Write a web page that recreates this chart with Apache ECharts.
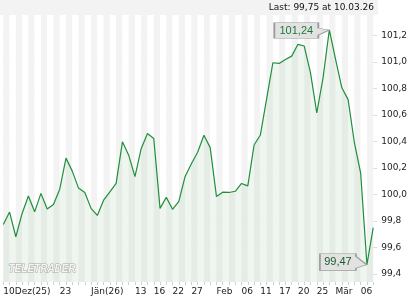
<!DOCTYPE html>
<html><head><meta charset="utf-8">
<script src="https://cdn.jsdelivr.net/npm/echarts@6/dist/echarts.min.js"></script>
<style>html,body{margin:0;padding:0;background:#fff}#c{width:420px;height:300px}</style>
</head><body><div id="c"></div>
<script>
var dates = [
 '2025-12-10','2025-12-11','2025-12-12','2025-12-15','2025-12-16','2025-12-17','2025-12-18','2025-12-19','2025-12-22','2025-12-23',
 '2025-12-24','2025-12-29','2025-12-30','2025-12-31',
 '2026-01-02','2026-01-05','2026-01-06','2026-01-07','2026-01-08','2026-01-09','2026-01-12','2026-01-13','2026-01-14','2026-01-15',
 '2026-01-16','2026-01-20','2026-01-21','2026-01-22','2026-01-23','2026-01-26','2026-01-27','2026-01-28','2026-01-29','2026-01-30',
 '2026-02-02','2026-02-03','2026-02-04','2026-02-05','2026-02-06','2026-02-09','2026-02-10','2026-02-11','2026-02-12','2026-02-13',
 '2026-02-17','2026-02-18','2026-02-19','2026-02-20','2026-02-23','2026-02-24','2026-02-25','2026-02-26','2026-02-27',
 '2026-03-02','2026-03-03','2026-03-04','2026-03-05','2026-03-06','2026-03-09','2026-03-10'
];
var prices = [
 99.774, 99.867, 99.681, 99.857, 99.988, 99.869, 100.008, 99.890, 99.925, 100.040,
 100.274, 100.176, 100.048, 100.015, 99.895, 99.842, 99.957, 100.020, 100.083, 100.397,
 100.296, 100.135, 100.347, 100.460, 100.422, 99.895, 99.978, 99.888, 99.948, 100.136,
 100.232, 100.318, 100.447, 100.353, 99.985, 100.017, 100.015, 100.024, 100.083, 100.065,
 100.373, 100.448, 100.720, 100.993, 100.988, 101.018, 101.043, 101.132, 101.119, 100.917,
 100.614, 100.879, 101.240, 101.018, 100.804, 100.715, 100.390, 100.160, 99.470, 99.750
];
var xTickLabels = {
 '2025-12-10':'10Dez(25)','2025-12-23':'23','2026-01-02':'Jän(26)','2026-01-13':'13','2026-01-16':'16',
 '2026-01-22':'22','2026-01-27':'27','2026-02-02':'Feb','2026-02-06':'06','2026-02-11':'11','2026-02-17':'17',
 '2026-02-20':'20','2026-02-25':'25','2026-03-02':'Mär','2026-03-06':'06'
};
var yTicks = [99.4, 99.6, 99.8, 100.0, 100.2, 100.4, 100.6, 100.8, 101.0, 101.2];
var lastText = 'Last: 99,75 at 10.03.26';
var watermark = 'TELETRADER';

function fmt(v, d){ return v.toFixed(d).replace('.', ','); }
var FONT = 'DejaVu Sans';

var chart = echarts.init(document.getElementById('c'), null, {renderer:'canvas'});
chart.setOption({
  animation:false,
  backgroundColor:'#fff',
  grid:{left:3.3, right:46.8, top:15, bottom:18, containLabel:false},
  graphic:[
    {type:'rect', left:0, top:0, shape:{width:378, height:15}, style:{fill:'#f3f3f3'}, z:-10, silent:true},
    {type:'text', right:46, top:3, style:{text:lastText, font:'9px "DejaVu Sans"', fill:'#111'}, z:10},
    {type:'text', left:8, top:264, style:{text:watermark, font:'italic bold 10px "Liberation Sans"', fill:'#f4f6f3', stroke:'#a8a8a8', lineWidth:1}, z:10}
  ],
  xAxis:{
    type:'category', data:dates, boundaryGap:false,
    axisLine:{show:false},
    axisTick:{show:true, interval:0, length:3, lineStyle:{color:'#cfcfcf'}},
    axisLabel:{
      interval:function(i, v){ return xTickLabels[v] !== undefined; },
      formatter:function(v){ return xTickLabels[v] || ''; },
      align:'left', margin:5, fontFamily:FONT, fontSize:9, color:'#222'
    },
    splitLine:{show:false},
    splitArea:{show:true, interval:0, areaStyle:{color:['#f3f3f3','#ffffff']}}
  },
  yAxis:{
    type:'value', position:'right', min:99.34, max:101.353, scale:true,
    axisLine:{show:false},
    axisTick:{show:true, length:4, customValues:yTicks, lineStyle:{color:'#dddddd'}},
    axisLabel:{customValues:yTicks, formatter:function(v){return fmt(v,1);}, margin:8, fontFamily:FONT, fontSize:9, color:'#222'},
    splitLine:{show:true, lineStyle:{color:'#e2e2e2', width:1}}
  },
  series:[{
    type:'line', data:prices, showSymbol:false, symbol:'none',
    lineStyle:{color:'#1f8f3c', width:1.2},
    areaStyle:{color:'rgba(180,210,178,0.30)'},
    markPoint:{
      silent:true,
      data:[
        {type:'max', symbol:'path://M0,0 L44,0 L44,5.5 L55,7.3 L44,12.5 L44,15.6 L0,15.6 Z',
         symbolSize:[55,15.6], symbolOffset:[-27.5,0.5],
         itemStyle:{color:'#e2e2e2', borderColor:'#9a9a9a', borderWidth:1},
         label:{show:true, position:'inside', offset:[-5.5,0], formatter:function(p){return fmt(p.value,2);}, color:'#1b7a35', fontFamily:'Liberation Sans', fontSize:11}},
        {type:'min', symbol:'path://M0,0 L36,0 L36,2.6 L47,11 L36,14.3 L36,16.6 L0,16.6 Z',
         symbolSize:[47,16.6], symbolOffset:[-23.5,-2.7],
         itemStyle:{color:'#e2e2e2', borderColor:'#9a9a9a', borderWidth:1},
         label:{show:true, position:'inside', offset:[-5.5,0], formatter:function(p){return fmt(p.value,2);}, color:'#1d5a2e', fontFamily:'Liberation Sans', fontSize:11}}
      ]
    }
  }]
});
</script></body></html>
